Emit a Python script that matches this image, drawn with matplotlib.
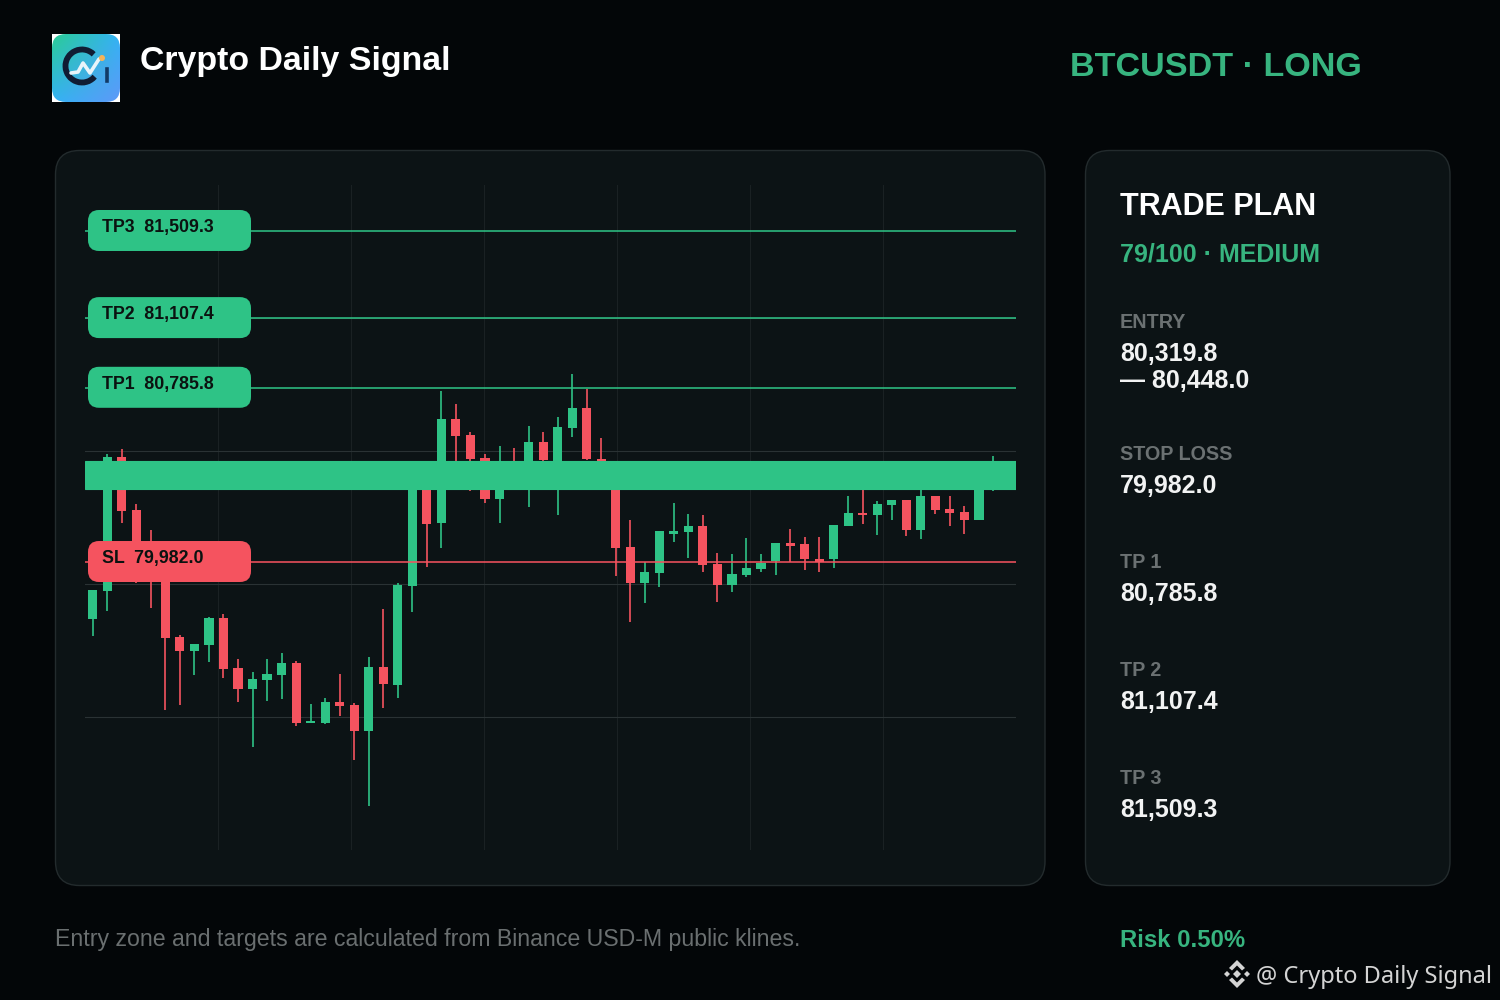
import numpy as np
import matplotlib
matplotlib.use('Agg')
import matplotlib.pyplot as plt
from matplotlib.patches import FancyBboxPatch, Polygon, Arc, Circle

# candles
opens = [79719, 79848, 80466, 80222, 80014, 79968, 79636, 79571, 79599, 79724,
         79493, 79396, 79438, 79461, 79516, 79239, 79239, 79336, 79322, 79202,
         79498, 79414, 79871, 80406, 80162, 80642, 80568, 80462, 80273, 80443,
         80406, 80536, 80406, 80600, 80693, 80457, 80406, 80051, 79885, 79931,
         80111, 80120, 80148, 79973, 79876, 79922, 79950, 79987, 80070, 80065,
         79996, 79996, 80148, 80208, 80199, 80245, 80268, 80130, 80287, 80227,
         80213, 80176, 80360]
highs = [79853, 80480, 80503, 80250, 80130, 79991, 79645, 79604, 79728, 79742,
         79534, 79474, 79534, 79562, 79525, 79327, 79355, 79465, 79331, 79544,
         79765, 79885, 80430, 80430, 80771, 80711, 80582, 80480, 80517, 80508,
         80609, 80582, 80651, 80849, 80780, 80554, 80430, 80176, 79982, 80125,
         80254, 80203, 80199, 80024, 80019, 80093, 80019, 80070, 80134, 80097,
         80097, 80153, 80287, 80314, 80263, 80268, 80268, 80314, 80287, 80287,
         80240, 80406, 80471]
lows = [79641, 79756, 80162, 79885, 79770, 79299, 79322, 79461, 79521, 79447,
        79336, 79128, 79341, 79350, 79225, 79239, 79235, 79271, 79068, 78856,
        79308, 79355, 79751, 79959, 80047, 80430, 80310, 80254, 80162, 80370,
        80236, 80430, 80199, 80559, 80453, 80406, 79917, 79705, 79793, 79867,
        80074, 80000, 79936, 79797, 79844, 79913, 79936, 79922, 79982, 79945,
        79936, 79954, 80148, 80157, 80107, 80176, 80102, 80088, 80203, 80148,
        80111, 80176, 80310]
closes = [79853, 80466, 80217, 80014, 79968, 79631, 79571, 79604, 79724, 79488,
          79396, 79442, 79465, 79516, 79239, 79248, 79336, 79318, 79202, 79498,
          79419, 79876, 80406, 80157, 80642, 80563, 80457, 80273, 80406, 80383,
          80536, 80453, 80605, 80693, 80457, 80430, 80047, 79885, 79936, 80125,
          80125, 80148, 79968, 79876, 79927, 79954, 79977, 80070, 80056, 79996,
          79982, 80153, 80208, 80199, 80250, 80268, 80130, 80287, 80222, 80208,
          80176, 80383, 80430]

entry_low = 80319.8
entry_high = 80448.0
level_names = ['TP3', 'TP2', 'TP1', 'SL']
level_prices = [81509.3, 81107.4, 80785.8, 79982.0]
level_texts = ['81,509.3', '81,107.4', '80,785.8', '79,982.0']

plan_labels = ['ENTRY', 'STOP LOSS', 'TP 1', 'TP 2', 'TP 3']
plan_values = ['80,319.8\n— 80,448.0', '79,982.0', '80,785.8', '81,107.4', '81,509.3']

GREEN = '#2ec386'
RED = '#f5535f'
TITLE_GREEN = '#37b47f'
BG = '#030608'
PANEL = '#0c1315'
SANS = 'Liberation Sans'

plt.rcParams['font.family'] = SANS

fig = plt.figure(figsize=(15, 10), dpi=100, facecolor=BG)


def pixel_axes(z):
    a = fig.add_axes([0, 0, 1, 1], zorder=z)
    a.set_xlim(0, 1500)
    a.set_ylim(1000, 0)
    a.axis('off')
    return a


back = pixel_axes(0)
top = pixel_axes(2)

# panels
for x0, x1 in [(55.5, 1045), (1085.5, 1450)]:
    back.add_patch(FancyBboxPatch((x0, 150.5), x1 - x0, 735,
                                  boxstyle='round,pad=0,rounding_size=24',
                                  fc=PANEL, ec='#232b2d', lw=1))

# price chart, same rect as the plot area in the picture
ax = fig.add_axes([85 / 1500, 1 - 850 / 1000, 931 / 1500, 665 / 1000], zorder=1)
ax.patch.set_alpha(0)
for s in ax.spines.values():
    s.set_visible(False)
ymin, ymax = 78653.2, 81721.5
xmin, xmax = -0.53, 63.55
ax.set_xlim(xmin, xmax)
ax.set_ylim(ymin, ymax)
ax.set_xticks(np.linspace(xmin, xmax, 8)[1:-1])
ax.set_yticks(np.linspace(ymin, ymax, 6)[1:-1])
ax.tick_params(length=0, labelbottom=False, labelleft=False)
ax.grid(True, axis='x', color='#1a2123', lw=0.8)
ax.grid(True, axis='y', color='#2a3234', lw=0.8)
ax.set_axisbelow(True)

for i in range(len(opens)):
    col = GREEN if closes[i] >= opens[i] else RED
    ax.vlines(i, lows[i], highs[i], color=col, lw=1.4, alpha=0.85, zorder=2)
    ax.bar(i, abs(closes[i] - opens[i]), bottom=min(opens[i], closes[i]),
           width=0.63, color=col, zorder=3)

ax.axhspan(entry_low, entry_high, fc=GREEN, ec=GREEN, lw=0.8, zorder=4)
for name, price in zip(level_names, level_prices):
    ax.axhline(price, color=RED if name == 'SL' else GREEN, lw=1.4, alpha=0.8, zorder=5)

# level tags
for name, price, txt in zip(level_names, level_prices, level_texts):
    yp = 185 + (ymax - price) / (ymax - ymin) * 665
    col = RED if name == 'SL' else GREEN
    top.add_patch(FancyBboxPatch((88, yp - 21), 163, 41,
                                 boxstyle='round,pad=0,rounding_size=11',
                                 fc=col, ec='none'))
    top.text(102, yp + 1, name + '  ' + txt, fontsize=12.8, fontweight='bold',
             color='#0b1210', va='baseline')

# header
top.text(140.5, 70, 'Crypto Daily Signal', fontsize=24.4, fontweight='bold', color='white')
top.text(1070.5, 76, 'BTCUSDT · LONG', fontsize=24.6, fontweight='bold', color=TITLE_GREEN)

# logo
xx, yy = np.meshgrid(np.linspace(0, 1, 68), np.linspace(0, 1, 68))
c1 = np.array([0.17, 0.80, 0.58])
c2 = np.array([0.20, 0.70, 0.96])
c3 = np.array([0.37, 0.60, 0.97])
t = yy[..., None]
u = xx[..., None]
grad = (1 - t) * (c1 * (1 - u) + c2 * u) + t * (c2 * (1 - u) + c3 * u)
top.add_patch(plt.Rectangle((52, 34), 68, 68, fc='white', ec='none'))
im = top.imshow(grad, extent=(52, 120, 102, 34), aspect='auto', zorder=1.5)
clip = FancyBboxPatch((52, 34), 68, 68, boxstyle='round,pad=0,rounding_size=14',
                      fc='none', ec='none', transform=top.transData)
top.add_patch(clip)
im.set_clip_path(clip)
top.set_xlim(0, 1500)
top.set_ylim(1000, 0)
top.add_patch(Arc((82, 66), 33, 33, theta1=40, theta2=315, lw=4.2,
                  color='#101c33', zorder=2))
top.plot([71, 78, 83, 90, 99], [73, 72, 63, 73, 59], color='#e8f4fa',
         lw=2.6, zorder=3, solid_capstyle='round')
top.add_patch(Circle((102, 58), 3, fc='#f5b45a', ec='none', zorder=3.5))
top.plot([106.5, 106.5], [69, 81], color='#123a66', lw=2.6, zorder=3)

# trade plan
top.text(1120.5, 215, 'TRADE PLAN', fontsize=22, fontweight='bold', color='white')
top.text(1120.5, 261, '79/100 · MEDIUM', fontsize=18, fontweight='bold', color=TITLE_GREEN)
label_y = [328, 460, 568, 676, 784]
for lab, val, yl in zip(plan_labels, plan_values, label_y):
    top.text(1120, yl, lab, fontsize=14.2, fontweight='bold', color='#6b7172')
    for k, part in enumerate(val.split('\n')):
        top.text(1120, yl + 33 + 27 * k, part, fontsize=18, fontweight='bold', color='#f2f3f3')

# footer
top.text(55, 946, 'Entry zone and targets are calculated from Binance USD-M public klines.',
         fontsize=16.7, color='#6a6f70')
top.text(1120.5, 947, 'Risk 0.50%', fontsize=17.2, fontweight='bold', color=TITLE_GREEN)

# watermark
wm = '#d4d4d4'
top.text(1256, 983, '@ Crypto Daily Signal', fontsize=17, color=wm, family='Noto Sans')
cx, cy = 1237, 974
top.add_patch(Polygon([(cx, cy - 4), (cx + 4, cy), (cx, cy + 4), (cx - 4, cy)], fc=wm, ec='none'))
for dx in (-10, 10):
    top.add_patch(Polygon([(cx + dx, cy - 3), (cx + dx + 3, cy), (cx + dx, cy + 3), (cx + dx - 3, cy)],
                          fc=wm, ec='none'))
for sgn in (-1, 1):
    top.add_patch(Polygon([(cx - 8, cy + sgn * 6), (cx, cy + sgn * 14), (cx + 8, cy + sgn * 6),
                           (cx + 5, cy + sgn * 3.5), (cx, cy + sgn * 8.5), (cx - 5, cy + sgn * 3.5)],
                          fc=wm, ec='none'))

fig.savefig('out.png', dpi=100, facecolor=BG)
